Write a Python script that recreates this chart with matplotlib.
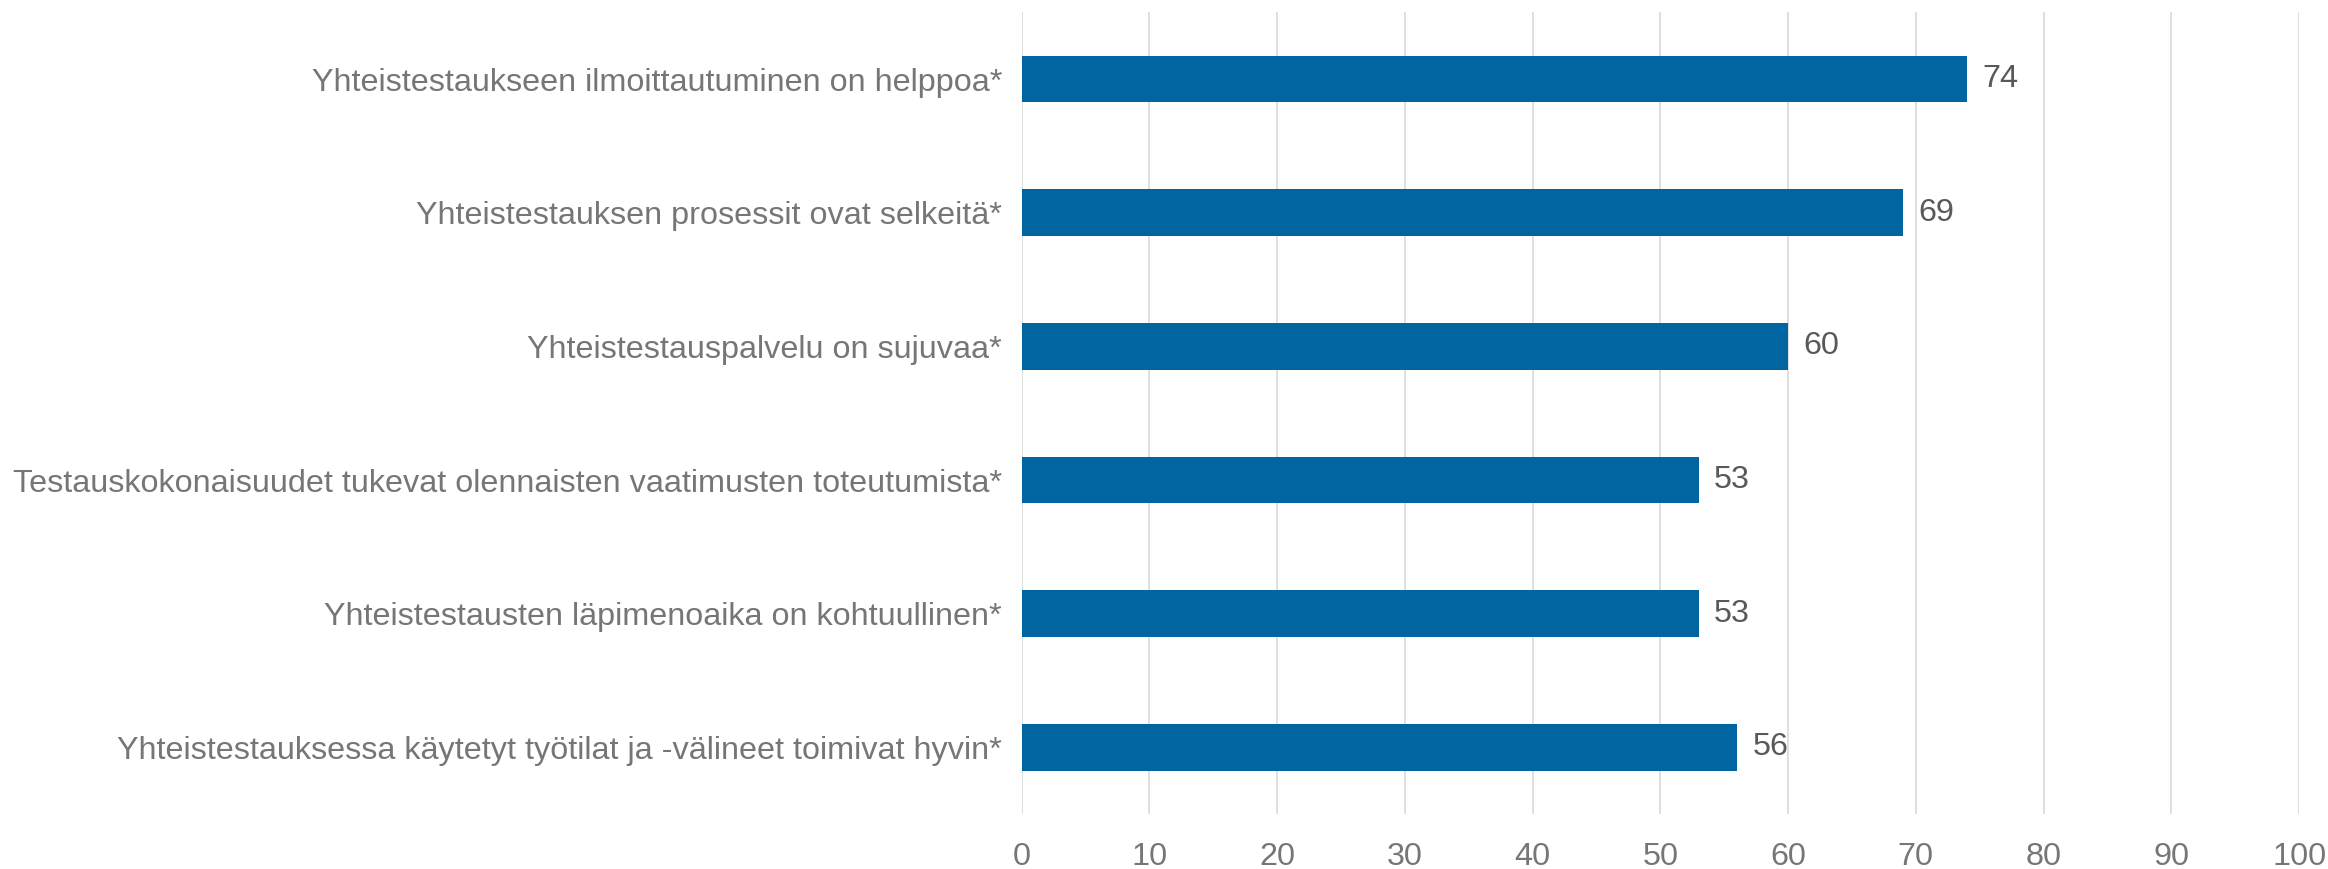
import matplotlib
matplotlib.use("Agg")
import matplotlib.pyplot as plt

categories = [
    "Yhteistestaukseen ilmoittautuminen on helppoa*",
    "Yhteistestauksen prosessit ovat selkeitä*",
    "Yhteistestauspalvelu on sujuvaa*",
    "Testauskokonaisuudet tukevat olennaisten vaatimusten toteutumista*",
    "Yhteistestausten läpimenoaika on kohtuullinen*",
    "Yhteistestauksessa käytetyt työtilat ja -välineet toimivat hyvin*",
]
values = [74, 69, 60, 53, 53, 56]
xticks = list(range(0, 101, 10))

plt.rcParams["font.family"] = ["Liberation Sans", "DejaVu Sans"]

BAR = "#0065a1"
FS = 23.3
fig = plt.figure(figsize=(23.28, 8.69), dpi=100)
ax = fig.add_axes([0.4388, 0.063, 0.5488, 0.923])

ypos = list(range(len(categories)))
ax.barh(ypos, values, height=0.35, color=BAR, zorder=3)
for y, v in zip(ypos, values):
    ax.text(v + 1.2, y, str(v), va="center", ha="left", fontsize=FS, color="#595959")

ax.set_xlim(0, 100)
ax.set_ylim(len(categories) - 0.5, -0.5)
ax.set_xticks(xticks)
ax.set_yticks(ypos)
ax.set_yticklabels(categories, fontsize=FS, color="#767676")
ax.tick_params(axis="x", labelsize=FS, labelcolor="#767676", length=0, pad=20)
ax.tick_params(axis="y", length=0, pad=14)
ax.grid(axis="x", color="#dcdcdc", lw=1.3, zorder=0)
for s in ax.spines.values():
    s.set_visible(False)

fig.savefig("out.png", dpi=100)
